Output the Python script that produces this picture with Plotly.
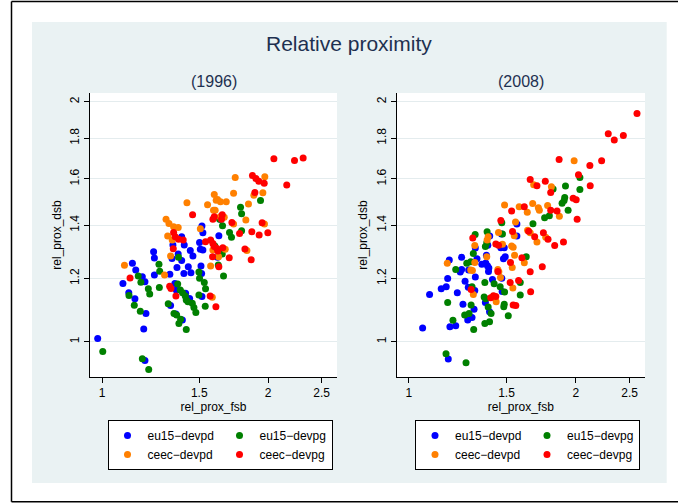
import math
import plotly.graph_objects as go

# ---------------- data ----------------
x96_eu15_devpd = [0.982,1.135,1.151,1.091,1.118,1.147,1.183,1.196,1.201,1.190,1.196,1.240,1.244,1.244,1.327,1.344,1.339,1.331,1.355,1.361,1.367,1.374,1.394,1.394,1.398,1.409,1.407,1.433,1.445,1.449,1.461,1.441,1.502,1.507,1.511,1.517,1.523,1.515,1.517,1.363,1.417,1.523,1.619,1.628,1.637]
y96_eu15_devpd = [1.009,1.254,1.230,1.183,1.152,1.132,1.206,1.189,1.085,1.037,0.947,1.297,1.273,1.212,1.215,1.322,1.272,1.110,1.183,1.083,1.239,1.288,1.354,1.264,1.065,1.322,1.218,1.242,1.301,1.220,1.281,1.133,1.332,1.306,1.244,1.397,1.370,1.218,1.139,1.161,1.150,1.303,1.276,1.358,1.424]

x96_eu15_devpg = [1.003,1.119,1.144,1.163,1.176,1.173,1.183,1.215,1.213,1.220,1.268,1.272,1.270,1.318,1.350,1.365,1.378,1.388,1.421,1.371,1.386,1.399,1.415,1.421,1.431,1.457,1.467,1.479,1.376,1.498,1.502,1.532,1.540,1.498,1.538,1.601,1.624,1.660,1.651,1.653,1.702,1.716,1.790,1.782,1.790,1.937,1.633]
y96_eu15_devpg = [0.972,1.143,1.111,1.209,1.187,1.092,0.952,0.923,1.165,1.148,1.251,1.226,1.169,1.116,1.085,1.080,1.054,1.067,1.036,1.181,1.161,1.152,1.141,1.128,1.122,1.117,1.104,1.088,1.276,1.223,1.201,1.186,1.165,1.144,1.108,1.318,1.248,1.209,1.288,1.398,1.371,1.352,1.378,1.474,1.447,1.504,1.424]

x96_ceec_devpd = [1.098,1.298,1.306,1.322,1.348,1.374,1.315,1.340,1.331,1.425,1.507,1.553,1.592,1.597,1.610,1.639,1.679,1.619,1.603,1.637,1.665,1.588,1.626,1.672,1.573,1.584,1.731,1.743,1.731,1.842,1.822,1.830,1.884,1.956,1.972,1.969]
y96_ceec_devpd = [1.247,1.212,1.424,1.407,1.394,1.391,1.357,1.341,1.281,1.494,1.386,1.485,1.462,1.530,1.505,1.498,1.498,1.508,1.462,1.435,1.432,1.303,1.278,1.306,1.244,1.137,1.535,1.607,1.405,1.488,1.421,1.301,1.526,1.538,1.610,1.405]

x96_ceec_devpg = [2.048,2.232,2.314,2.161,1.873,1.900,1.923,1.967,1.892,1.459,1.588,1.597,1.651,1.646,1.719,1.868,1.950,1.926,1.997,1.775,1.815,1.863,1.348,1.357,1.376,1.403,1.346,1.540,1.573,1.588,1.597,1.615,1.655,1.621,1.586,1.700,1.628,1.124,1.326,1.333,1.361,1.570,1.608]
y96_ceec_devpg = [1.696,1.688,1.700,1.572,1.616,1.602,1.590,1.580,1.539,1.443,1.424,1.435,1.443,1.424,1.411,1.374,1.410,1.361,1.370,1.367,1.307,1.267,1.371,1.354,1.344,1.341,1.308,1.335,1.341,1.328,1.316,1.309,1.312,1.299,1.278,1.274,1.242,1.202,1.174,1.166,1.141,1.141,1.106]

x08_eu15_devpd = [1.059,1.090,1.144,1.168,1.175,1.186,1.215,1.178,1.183,1.223,1.238,1.245,1.245,1.263,1.252,1.277,1.300,1.311,1.280,1.315,1.318,1.318,1.327,1.354,1.376,1.386,1.392,1.394,1.380,1.388,1.399,1.415,1.374,1.398,1.471,1.473,1.492,1.481,1.465,1.486,1.469,1.566,1.566,1.282]
y08_eu15_devpd = [1.040,1.146,1.165,1.172,1.200,1.044,1.047,0.951,1.266,1.152,1.223,1.232,1.276,1.191,1.114,1.065,1.072,1.098,1.170,1.159,1.205,1.311,1.271,1.251,1.255,1.245,1.225,1.237,1.284,1.321,1.357,1.197,1.120,1.090,1.201,1.156,1.278,1.271,1.312,1.312,1.365,1.357,1.405,1.230]

x08_eu15_devpg = [2.034,2.034,1.820,1.916,1.910,1.905,1.889,1.937,1.757,1.792,1.674,1.471,1.475,1.628,1.588,1.588,1.167,1.268,1.175,1.201,1.215,1.261,1.284,1.295,1.309,1.300,1.272,1.293,1.307,1.317,1.374,1.382,1.384,1.371,1.367,1.376,1.390,1.407,1.371,1.398,1.461,1.488,1.483,1.486,1.511,1.425]
y08_eu15_devpg = [1.607,1.552,1.554,1.568,1.517,1.503,1.492,1.462,1.430,1.439,1.406,1.410,1.365,1.278,1.186,1.144,0.966,0.941,1.120,1.064,1.232,1.080,1.085,1.112,1.036,1.172,1.254,1.260,1.290,1.363,1.316,1.331,1.374,1.186,1.138,1.132,1.105,1.085,1.054,1.059,1.172,1.154,1.106,1.114,1.078,1.182]

x08_ceec_devpd = [1.986,1.679,1.807,1.488,1.581,1.635,1.672,1.712,1.719,1.779,1.868,1.765,1.702,1.637,1.655,1.557,1.451,1.549,1.475,1.532,1.542,1.551,1.615,1.536,1.540,1.173,1.293,1.302,1.307,1.315,1.315,1.382,1.384,1.390,1.447,1.463,1.437,1.453]
y08_ceec_devpd = [1.686,1.573,1.564,1.484,1.477,1.453,1.491,1.472,1.462,1.482,1.437,1.352,1.334,1.380,1.370,1.413,1.371,1.358,1.325,1.318,1.314,1.284,1.256,1.239,1.168,1.254,1.230,1.228,1.146,1.320,1.257,1.278,1.341,1.354,1.232,1.204,1.122,1.224]

x08_ceec_devpg = [2.578,2.288,2.346,2.436,1.866,2.226,2.120,2.022,2.123,1.655,1.702,1.762,1.802,1.978,2.003,2.011,1.532,1.615,1.802,1.850,1.900,1.832,1.782,1.748,1.686,1.644,1.740,1.655,1.658,1.465,1.538,1.435,1.451,1.599,1.525,1.523,1.577,1.304,1.295,1.405,1.421,1.435,1.447,1.542,1.559]
y08_ceec_devpg = [1.933,1.823,1.790,1.814,1.693,1.686,1.664,1.620,1.569,1.598,1.569,1.590,1.539,1.513,1.507,1.424,1.459,1.477,1.462,1.459,1.334,1.320,1.344,1.370,1.354,1.376,1.242,1.224,1.155,1.419,1.375,1.326,1.321,1.274,1.257,1.186,1.193,1.349,1.163,1.135,1.142,1.139,1.225,1.112,1.110]

group_names = ["eu15\u2212devpd", "eu15\u2212devpg", "ceec\u2212devpd", "ceec\u2212devpg"]
group_colors = ["#0000FF", "#008000", "#FF8000", "#FF0000"]
panel_titles = ["(1996)", "(2008)"]
x_ticks = [1, 1.5, 2, 2.5]
x_ticklabels = ["1", "1.5", "2", "2.5"]
y_ticks = [1, 1.2, 1.4, 1.6, 1.8, 2]
y_ticklabels = ["1", "1.2", "1.4", "1.6", "1.8", "2"]
x_limits = [0.951, 2.665]
y_limits = [0.903, 2.051]

panels = [
    [(x96_eu15_devpd, y96_eu15_devpd), (x96_eu15_devpg, y96_eu15_devpg),
     (x96_ceec_devpd, y96_ceec_devpd), (x96_ceec_devpg, y96_ceec_devpg)],
    [(x08_eu15_devpd, y08_eu15_devpd), (x08_eu15_devpg, y08_eu15_devpg),
     (x08_ceec_devpd, y08_ceec_devpd), (x08_ceec_devpg, y08_ceec_devpg)],
]

# ---------------- layout geometry (pixels) ----------------
W, H = 678, 504
L, R, T, B = 90, 33, 93, 127
PW = W - L - R
PH = H - T - B


def px(X):
    return (X - L) / PW


def py(Y):
    return (H - B - Y) / PH


FONT = "Liberation Sans, Arial, Helvetica, sans-serif"
TITLE_COLOR = "#1E3050"
GRID = "#E4ECEE"

fig = go.Figure()

for p, series in enumerate(panels):
    xa = "x" if p == 0 else "x2"
    ya = "y" if p == 0 else "y2"
    leg = "legend" if p == 0 else "legend2"
    for g, (xs, ys) in enumerate(series):
        fig.add_trace(go.Scatter(
            x=xs, y=ys, mode="markers", name=group_names[g],
            marker=dict(color=group_colors[g], size=7, line=dict(width=0)),
            xaxis=xa, yaxis=ya, legend=leg,
            legendgroup=f"p{p}c{g % 2}",
        ))

xcommon = dict(
    type="log", range=[math.log10(x_limits[0]), math.log10(x_limits[1])],
    tickmode="array", tickvals=x_ticks, ticktext=x_ticklabels,
    showline=True, linecolor="black", linewidth=1, mirror=False,
    ticks="outside", ticklen=5, tickwidth=1, tickcolor="black",
    tickfont=dict(size=12, color="black", family=FONT),
    showgrid=False, zeroline=False,
    title=dict(text="rel_prox_fsb", font=dict(size=12, color="black", family=FONT), standoff=3),
)
ycommon = dict(
    type="log", range=[math.log10(y_limits[0]), math.log10(y_limits[1])],
    tickmode="array", tickvals=y_ticks, ticktext=y_ticklabels, tickangle=-90,
    showline=True, linecolor="black", linewidth=1, mirror=False,
    ticks="outside", ticklen=5, tickwidth=1, tickcolor="black",
    tickfont=dict(size=12, color="black", family=FONT),
    showgrid=True, gridcolor=GRID, gridwidth=1, zeroline=False,
    title=dict(text="rel_prox_dsb", font=dict(size=12, color="black", family=FONT), standoff=4),
)

left_end = px(337)
right_start = px(396.7)

shapes = [
    dict(type="rect", xref="paper", yref="paper", x0=px(32), x1=px(666.7), y0=py(483), y1=py(22),
         fillcolor="#EAF2F3", line=dict(width=0), layer="below"),
    dict(type="rect", xref="paper", yref="paper", x0=0, x1=left_end, y0=0, y1=1,
         fillcolor="white", line=dict(width=0), layer="below"),
    dict(type="rect", xref="paper", yref="paper", x0=right_start, x1=1, y0=0, y1=1,
         fillcolor="white", line=dict(width=0), layer="below"),
    dict(type="line", xref="paper", yref="paper", x0=px(11.5), x1=px(11.5), y0=py(1.5), y1=py(501.7),
         line=dict(color="black", width=1.5)),
    dict(type="line", xref="paper", yref="paper", x0=px(11.5), x1=px(678), y0=py(1.5), y1=py(1.5),
         line=dict(color="black", width=1.5)),
    dict(type="line", xref="paper", yref="paper", x0=px(11.5), x1=px(678), y0=py(501.7), y1=py(501.7),
         line=dict(color="black", width=1.5)),
]

annotations = [
    dict(text="Relative proximity", xref="paper", yref="paper", x=px(349), y=py(44),
         xanchor="center", yanchor="middle", showarrow=False,
         font=dict(size=21, color=TITLE_COLOR, family=FONT)),
    dict(text=panel_titles[0], xref="paper", yref="paper", x=left_end / 2, y=py(81),
         xanchor="center", yanchor="middle", showarrow=False,
         font=dict(size=16, color=TITLE_COLOR, family=FONT)),
    dict(text=panel_titles[1], xref="paper", yref="paper", x=(right_start + 1) / 2, y=py(81),
         xanchor="center", yanchor="middle", showarrow=False,
         font=dict(size=16, color=TITLE_COLOR, family=FONT)),
]

legcommon = dict(
    orientation="h", traceorder="grouped", xanchor="left", yanchor="top",
    bgcolor="white", bordercolor="black", borderwidth=1,
    font=dict(size=12, color="black", family=FONT),
    itemwidth=30, entrywidth=67, tracegroupgap=0,
)

fig.update_layout(
    width=W, height=H,
    margin=dict(l=L, r=R, t=T, b=B, autoexpand=False),
    paper_bgcolor="white", plot_bgcolor="white",
    font=dict(family=FONT, color="black"),
    showlegend=True,
    xaxis=dict(domain=[0, left_end], anchor="y", **xcommon),
    yaxis=dict(domain=[0, 1], anchor="x", **ycommon),
    xaxis2=dict(domain=[right_start, 1], anchor="y2", **xcommon),
    yaxis2=dict(domain=[0, 1], anchor="x2", **ycommon),
    legend=dict(x=px(107.5), y=py(420), **legcommon),
    legend2=dict(x=px(415), y=py(420), **legcommon),
    shapes=shapes,
    annotations=annotations,
)

fig.write_html("out.html")
